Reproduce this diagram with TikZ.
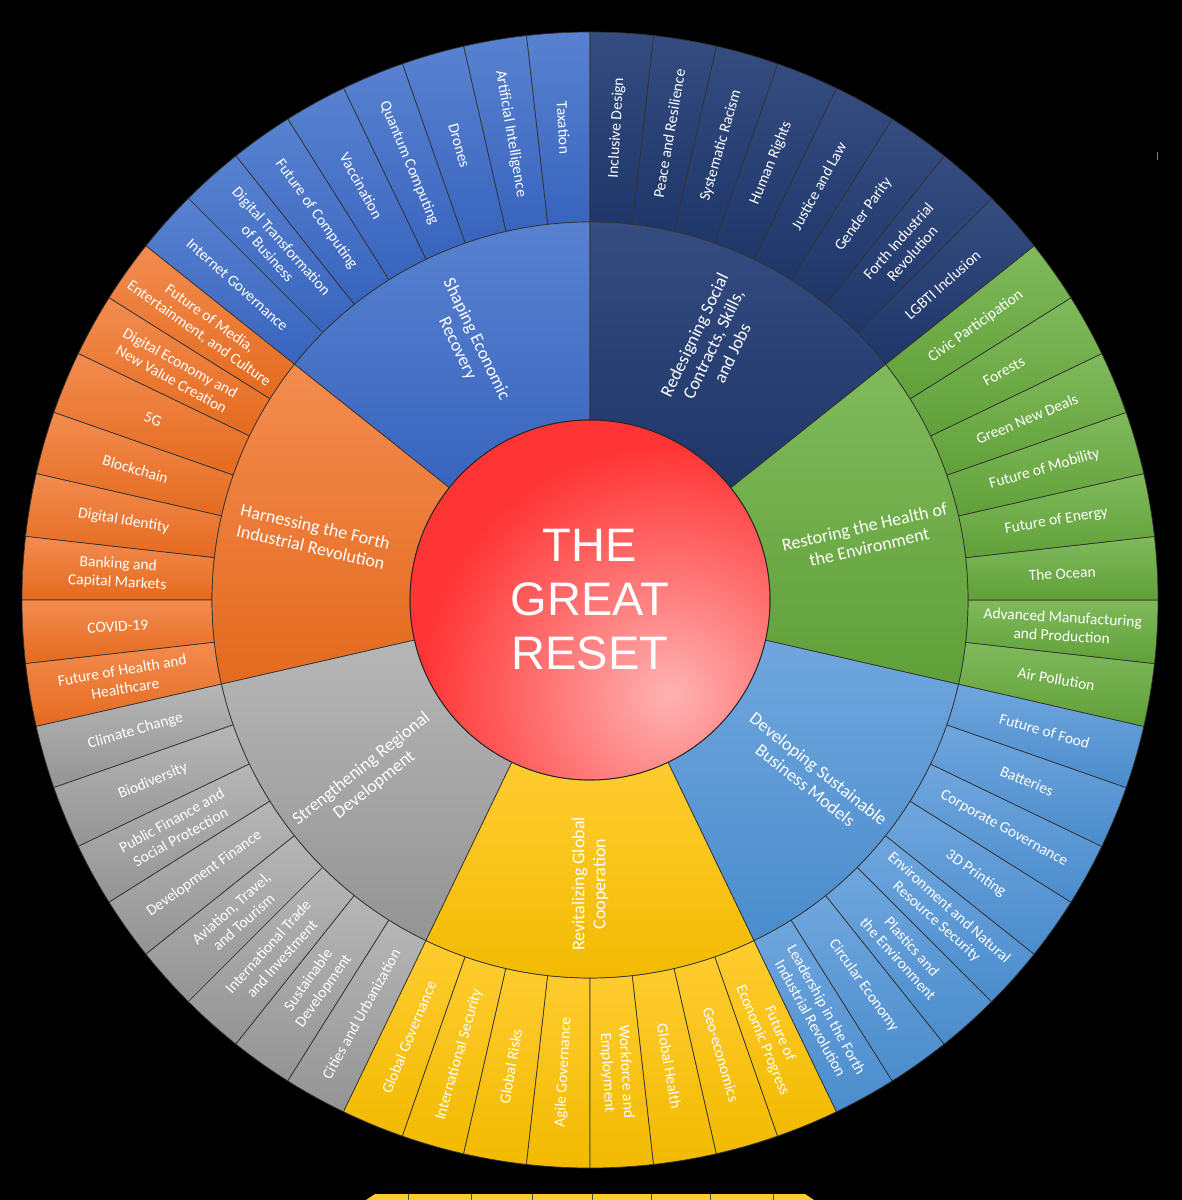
\documentclass[tikz,border=0pt]{standalone}
\usepackage{fontspec}
\setmainfont{Carlito}
\newfontfamily\resetfont{Liberation Sans}

\definecolor{econ-top}{RGB}{88,130,208}
\definecolor{econ-bot}{RGB}{56,100,190}
\definecolor{social-top}{RGB}{52,76,128}
\definecolor{social-bot}{RGB}{30,54,104}
\definecolor{env-top}{RGB}{128,186,92}
\definecolor{env-bot}{RGB}{96,160,56}
\definecolor{biz-top}{RGB}{112,166,222}
\definecolor{biz-bot}{RGB}{74,140,204}
\definecolor{coop-top}{RGB}{255,204,48}
\definecolor{coop-bot}{RGB}{242,186,0}
\definecolor{region-top}{RGB}{182,182,182}
\definecolor{region-bot}{RGB}{148,148,148}
\definecolor{tech-top}{RGB}{243,140,80}
\definecolor{tech-bot}{RGB}{228,106,30}
\definecolor{resetred}{RGB}{255,52,52}
\definecolor{resetglow}{RGB}{255,178,178}

\begin{document}
\begin{tikzpicture}[
    x=1pt, y=1pt,
    every node/.style={text=white, align=center, inner sep=0pt},
    wedge/.style={draw=black!80, line width=0.7pt},
    topic/.style={font=\fontsize{15.5}{18.5}\selectfont},
    pillar/.style={font=\fontsize{18}{21}\selectfont},
    title/.style={font=\resetfont\fontsize{47}{54}\selectfont}
]
% -------------------------
% Background and page frame
% -------------------------
    \fill[black] (-590,-600) rectangle (592,600);
    \useasboundingbox (-590,-600) rectangle (592,600);

% -------------------------
% Outer ring: 56 topics, counter-clockwise from the top
% -------------------------
    \foreach \grp/\txt [count=\j from 0] in {
        econ/Taxation, econ/Artificial Intelligence, econ/Drones, econ/Quantum Computing,
        econ/Vaccination, econ/Future of Computing, econ/{Digital Transformation\\of Business}, econ/Internet Governance,
        tech/{Future of Media,\\Entertainment, and Culture}, tech/{Digital Economy and\\New Value Creation}, tech/5G, tech/Blockchain,
        tech/Digital Identity, tech/{Banking and\\Capital Markets}, tech/COVID-19, tech/{Future of Health and\\Healthcare},
        region/Climate Change, region/Biodiversity, region/{Public Finance and\\Social Protection}, region/Development Finance,
        region/{Aviation, Travel,\\and Tourism}, region/{International Trade\\and Investment}, region/{Sustainable\\Development}, region/Cities and Urbanization,
        coop/Global Governance, coop/International Security, coop/Global Risks, coop/Agile Governance,
        coop/{Workforce and\\Employment}, coop/Global Health, coop/Geo-economics, coop/{Future of\\Economic Progress},
        biz/{Leadership in the Forth\\Industrial Revolution}, biz/Circular Economy, biz/{Plastics and\\the Environment}, biz/{Environment and Natural\\Resource Security},
        biz/3D Printing, biz/Corporate Governance, biz/Batteries, biz/Future of Food,
        env/Air Pollution, env/{Advanced Manufacturing\\and Production}, env/The Ocean, env/Future of Energy,
        env/Future of Mobility, env/Green New Deals, env/Forests, env/Civic Participation,
        social/LGBTI Inclusion, social/{Forth Industrial\\Revolution}, social/Gender Parity, social/Justice and Law,
        social/Human Rights, social/Systematic Racism, social/Peace and Resilience, social/Inclusive Design} {
        \pgfmathsetmacro\angA{90+\j*(360/56)}
        \pgfmathsetmacro\angB{\angA+360/56}
        \pgfmathsetmacro\angM{\angA+180/56}
        \pgfmathsetmacro\turn{(\angM>90 && \angM<270) ? \angM-180 : \angM}
        \shadedraw[wedge, top color=\grp-top, bottom color=\grp-bot]
            (\angA:378) arc[start angle=\angA, end angle=\angB, radius=378]
            -- (\angB:568) arc[start angle=\angB, end angle=\angA, radius=568] -- cycle;
        \node[topic, rotate=\turn] (topic\j) at (\angM:473) {\txt};
    }

% -------------------------
% Inner ring: seven pillars
% -------------------------
    \foreach \grp/\txt [count=\i from 0] in {
        econ/{Shaping Economic\\Recovery},
        tech/{Harnessing the Forth\\Industrial Revolution},
        region/{Strengthening Regional\\Development},
        coop/{Revitalizing Global\\Cooperation},
        biz/{Developing Sustainable\\Business Models},
        env/{Restoring the Health of\\the Environment},
        social/{Redesigning Social\\Contracts, Skills,\\and Jobs}} {
        \pgfmathsetmacro\angA{90+\i*(360/7)}
        \pgfmathsetmacro\angB{\angA+360/7}
        \pgfmathsetmacro\angM{\angA+180/7}
        \pgfmathsetmacro\turn{(\angM>90 && \angM<270) ? \angM-180 : \angM}
        \shadedraw[wedge, top color=\grp-top, bottom color=\grp-bot]
            (\angA:180) arc[start angle=\angA, end angle=\angB, radius=180]
            -- (\angB:378) arc[start angle=\angB, end angle=\angA, radius=378] -- cycle;
        \node[pillar, rotate=\turn] (pillar\i) at (\angM:284) {\txt};
    }

% -------------------------
% Centre disc
% -------------------------
    \fill[resetred] (0,0) circle (180);
    \begin{scope}
        \clip (0,0) circle (180);
        \shade[inner color=resetglow, outer color=resetred] (80,-95) circle (250);
    \end{scope}
    \draw[black!85, line width=1pt] (0,0) circle (180);
    \node[title] (reset) at (0,0) {THE\\GREAT\\RESET};

% -------------------------
% Leftovers at the page edges
% -------------------------
    % strip of a second copy at the bottom
    \fill[coop-top] (-224,-600) -- (-215,-594) -- (215,-594) -- (224,-600) -- cycle;
    \foreach \x in {-182,-119,-58,2,61,120,183}
        \draw[black!70, line width=0.6pt] (\x,-594) -- (\x,-600);
    % small tick at the top right
    \draw[gray, line width=0.8pt] (567,448) -- (567,440);
\end{tikzpicture}
\end{document}
